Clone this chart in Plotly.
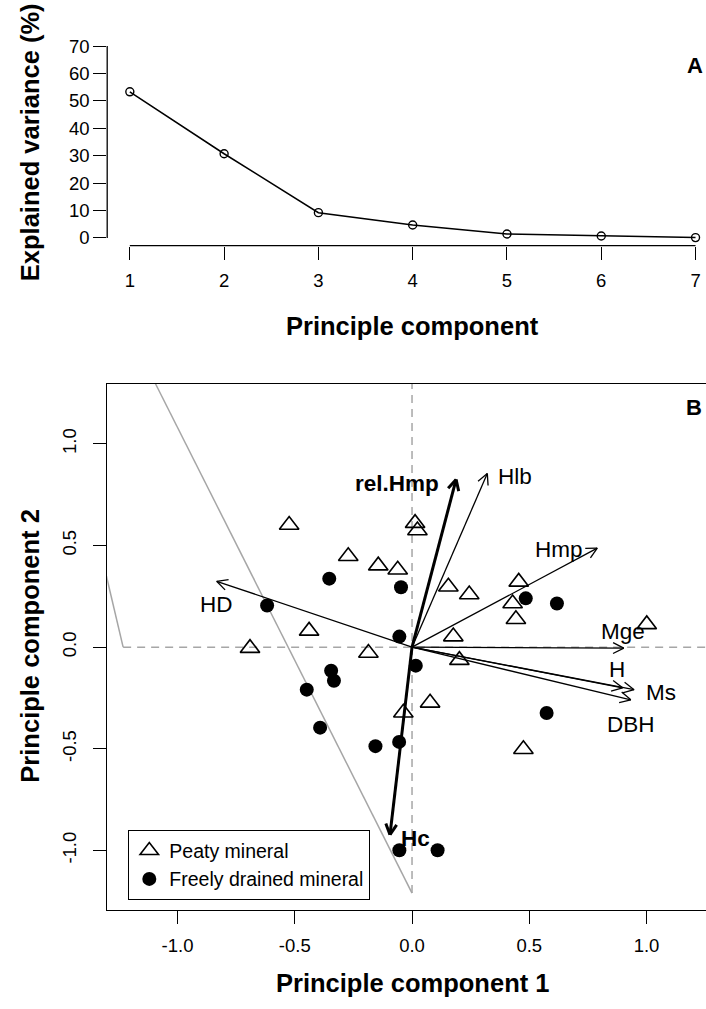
import math
import plotly.graph_objects as go

# ---------------- data ----------------
scree_pc = [1, 2, 3, 4, 5, 6, 7]
scree_var = [53.3, 30.7, 9.2, 4.7, 1.4, 0.7, 0.1]

peaty_pc1 = [-0.524, 0.013, 0.023, -0.272, -0.144, -0.061, -0.439, -0.691, -0.186, 0.077,
             -0.037, 0.155, 0.244, 0.455, 0.429, 0.443, 1.001, 0.176, 0.202, 0.475]
peaty_pc2 = [0.601, 0.610, 0.574, 0.447, 0.401, 0.381, 0.080, -0.005, -0.029, -0.274,
             -0.323, 0.297, 0.259, 0.321, 0.215, 0.137, 0.112, 0.052, -0.064, -0.502]

drained_pc1 = [-0.353, -0.047, -0.618, -0.054, 0.016, -0.345, -0.333, -0.449, -0.392,
               -0.156, -0.055, -0.054, 0.109, 0.485, 0.618, 0.574]
drained_pc2 = [0.337, 0.295, 0.205, 0.052, -0.091, -0.116, -0.165, -0.209, -0.396,
               -0.487, -0.466, -0.999, -0.999, 0.240, 0.215, -0.324]

load_names = ["rel.Hmp", "Hlb", "Hmp", "Mge", "H", "Ms", "DBH", "HD", "Hc"]
load_pc1 = [0.188, 0.321, 0.790, 0.903, 0.898, 0.947, 0.933, -0.833, -0.094]
load_pc2 = [0.825, 0.854, 0.487, -0.005, -0.200, -0.209, -0.259, 0.324, -0.923]
load_bold = [True, False, False, False, False, False, False, False, True]
label_pc1 = [-0.064, 0.441, 0.627, 0.901, 0.873, 1.060, 0.934, -0.832, 0.016]
label_pc2 = [0.807, 0.841, 0.479, 0.075, -0.111, -0.222, -0.380, 0.210, -0.939]

boundary1_pc1 = [-1.094, 0.0]
boundary1_pc2 = [1.296, -1.21]
boundary2_pc1 = [-1.32, -1.232]
boundary2_pc2 = [0.431, 0.0]

# ---------------- layout constants ----------------
W, H = 706, 1009
FONT = "Liberation Sans, Arial, Helvetica, sans-serif"
xa_range = [0.76, 7.111]
ya_range = [-2.8, 72.8]
xb_range = [-1.30, 1.2537]
yb_range = [-1.291, 1.296]
x_dom = [107.2 / W, 1.0]
ya_dom = [1 - 244 / H, 1 - 35.6 / H]
yb_dom = [1 - 912 / H, 1 - 383 / H]

kx = (x_dom[1] - x_dom[0]) * W / (xb_range[1] - xb_range[0])
ky = (yb_dom[1] - yb_dom[0]) * H / (yb_range[1] - yb_range[0])

fig = go.Figure()

# ---- panel A ----
fig.add_trace(go.Scatter(
    x=scree_pc, y=scree_var, mode="lines+markers", xaxis="x", yaxis="y",
    line=dict(color="black", width=1.5),
    marker=dict(symbol="circle-open", size=8, color="black", line=dict(width=1.4)),
    showlegend=False, hoverinfo="skip"))

# ---- panel B: reference lines ----
fig.add_trace(go.Scatter(x=boundary1_pc1, y=boundary1_pc2, mode="lines", xaxis="x2", yaxis="y2",
                         line=dict(color="#a6a6a6", width=1.5), showlegend=False, hoverinfo="skip"))
fig.add_trace(go.Scatter(x=boundary2_pc1, y=boundary2_pc2, mode="lines", xaxis="x2", yaxis="y2",
                         line=dict(color="#a6a6a6", width=1.5), showlegend=False, hoverinfo="skip"))
fig.add_trace(go.Scatter(x=[0, 0], y=[boundary1_pc2[1], yb_range[1]], mode="lines", xaxis="x2", yaxis="y2",
                         line=dict(color="#a6a6a6", width=1.5, dash="8px,6px"), showlegend=False, hoverinfo="skip"))
fig.add_trace(go.Scatter(x=[boundary2_pc1[1], xb_range[1]], y=[0, 0], mode="lines", xaxis="x2", yaxis="y2",
                         line=dict(color="#a6a6a6", width=1.5, dash="8px,6px"), showlegend=False, hoverinfo="skip"))

# ---- points ----
fig.add_trace(go.Scatter(
    x=peaty_pc1, y=peaty_pc2, mode="markers", xaxis="x2", yaxis="y2", name="Peaty mineral",
    marker=dict(symbol="triangle-up-open", size=17, color="black", line=dict(width=1.6))))
fig.add_trace(go.Scatter(
    x=drained_pc1, y=drained_pc2, mode="markers", xaxis="x2", yaxis="y2", name="Freely drained mineral",
    marker=dict(symbol="circle", size=14, color="black")))

# ---- loading arrows ----
HEAD_PX = 12.0
HEAD_ANG = math.radians(27)
for bold_flag in (False, True):
    xs, ys = [], []
    for lx, ly, b in zip(load_pc1, load_pc2, load_bold):
        if b != bold_flag:
            continue
        xs += [0, lx, None]
        ys += [0, ly, None]
        dx, dy = lx * kx, ly * ky
        L = math.hypot(dx, dy)
        ux, uy = dx / L, dy / L
        for s in (1, -1):
            ca, sa = math.cos(s * HEAD_ANG), math.sin(s * HEAD_ANG)
            bx = -(ux * ca - uy * sa) * HEAD_PX
            by = -(ux * sa + uy * ca) * HEAD_PX
            xs += [lx + bx / kx, lx, None]
            ys += [ly + by / ky, ly, None]
    fig.add_trace(go.Scatter(x=xs, y=ys, mode="lines", xaxis="x2", yaxis="y2",
                             line=dict(color="black", width=3.0 if bold_flag else 1.3),
                             showlegend=False, hoverinfo="skip"))

annotations = []
for name, lx, ly, b in zip(load_names, label_pc1, label_pc2, load_bold):
    annotations.append(dict(x=lx, y=ly, xref="x2", yref="y2", text=f"<b>{name}</b>" if b else name,
                            showarrow=False, font=dict(family=FONT, size=22.5, color="black"),
                            xanchor="center", yanchor="middle"))

def px(xp, yp):
    return xp / W, 1 - yp / H

for txt, (xp, yp), ang in [
    ("Explained variance (%)", (30, 140), -90),
    ("Principle component", (412.7, 325), 0),
    ("Principle component 2", (30, 647.5), -90),
    ("Principle component 1", (412, 986), 0),
]:
    ax_, ay_ = px(xp, yp)
    annotations.append(dict(x=ax_, y=ay_, xref="paper", yref="paper", text=f"<b>{txt}</b>",
                            showarrow=False, textangle=ang, xanchor="center", yanchor="middle",
                            font=dict(family=FONT, size=25.5, color="black")))
for txt, (xp, yp) in [("A", (695, 63)), ("B", (694, 407))]:
    ax_, ay_ = px(xp, yp)
    annotations.append(dict(x=ax_, y=ay_, xref="paper", yref="paper", text=f"<b>{txt}</b>",
                            showarrow=False, xanchor="center", yanchor="middle",
                            font=dict(family=FONT, size=22, color="black")))

tickfont = dict(family=FONT, size=18.5, color="black")
common = dict(showgrid=False, zeroline=False, ticks="outside", ticklen=13, tickwidth=1.3,
              tickcolor="black", tickfont=tickfont)

bticks = [-1.0, -0.5, 0.0, 0.5, 1.0]
bticktext = ["-1.0", "-0.5", "0.0", "0.5", "1.0"]

fig.update_layout(
    width=W, height=H, margin=dict(l=0, r=0, t=0, b=0),
    paper_bgcolor="white", plot_bgcolor="white",
    font=dict(family=FONT, color="black"),
    xaxis=dict(domain=x_dom, range=xa_range, anchor="y", tickvals=scree_pc, showline=False,
               ticklabelstandoff=5, **common),
    yaxis=dict(domain=ya_dom, range=ya_range, anchor="x", tickvals=list(range(0, 71, 10)),
               showline=False, ticklabelstandoff=0, **common),
    xaxis2=dict(domain=x_dom, range=xb_range, anchor="y2", tickvals=bticks, ticktext=bticktext,
                showline=True, linecolor="black", linewidth=1.3, mirror=True,
                ticklabelstandoff=6, **common),
    yaxis2=dict(domain=yb_dom, range=yb_range, anchor="x2", tickvals=bticks, ticktext=bticktext,
                showline=True, linecolor="black", linewidth=1.3, mirror=False, tickangle=-90,
                ticklabelstandoff=10, **common),
    legend=dict(x=128 / W, y=1 - 832 / H, xanchor="left", yanchor="top",
                bordercolor="black", borderwidth=1.3, bgcolor="white",
                font=dict(family=FONT, size=19.5, color="black"), tracegroupgap=0),
    annotations=annotations,
    shapes=[
        dict(type="line", xref="x", yref="y domain", x0=1, x1=7, y0=0, y1=0,
             line=dict(color="black", width=1.3)),
        dict(type="line", xref="x domain", yref="y", x0=0, x1=0, y0=0, y1=70,
             line=dict(color="black", width=1.3)),
    ],
)

fig.write_html("out.html", config={"displayModeBar": False},
               post_script="document.body.style.margin='0px';document.body.style.overflow='hidden';")
